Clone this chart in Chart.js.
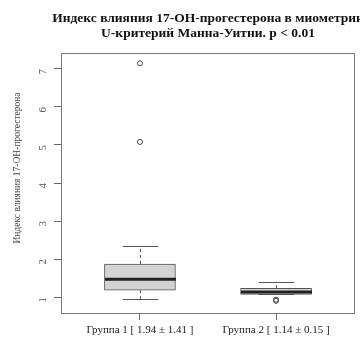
<!DOCTYPE html>
<html>
<head>
<meta charset="utf-8">
<script src="https://cdn.jsdelivr.net/npm/chart.js@4/dist/chart.umd.min.js"></script>
<style>
  html, body { margin: 0; padding: 0; background: #fff; }
  #wrap { width: 360px; height: 340px; position: relative; }
</style>
</head>
<body>
<div id="wrap"><canvas id="c"></canvas></div>
<script>
// Group labels and box-plot statistics (17-OH-progesterone influence index)
const categories = ['Группа 1 [ 1.94 ± 1.41 ]', 'Группа 2 [ 1.14 ± 0.15 ]'];
const groupPos = [1, 2];
const whiskerLow = [0.95, 1.07];
const q1 = [1.18, 1.07];
const median = [1.47, 1.13];
const q3 = [1.87, 1.23];
const whiskerHigh = [2.34, 1.40];
// Outliers: [group index, value]
const outlierGroup = [0, 0, 1, 1];
const outlierValue = [7.15, 5.08, 0.93, 0.90];
const yTicks = [1, 2, 3, 4, 5, 6, 7];

const titleLines = ['Индекс влияния 17-ОН-прогестерона в миометрии', 'U-критерий Манна-Уитни. p < 0.01'];
const yTitle = 'Индекс влияния 17-OH-прогестерона';

const SERIF = '"Liberation Serif", "DejaVu Serif", serif';

const boxExtras = {
  id: 'boxExtras',
  afterDatasetsDraw(chart) {
    const { ctx, chartArea, scales } = chart;
    const xs = scales.x, ys = scales.y;
    const meta = chart.getDatasetMeta(0);
    ctx.save();
    groupPos.forEach((g, i) => {
      const cx = Math.round(xs.getPixelForValue(g)) + 0.5;
      const bar = meta.data[i];
      const half = bar.width / 2;
      const capHalf = half / 2;
      ctx.strokeStyle = '#555';
      ctx.lineWidth = 1;
      // dashed stems
      ctx.setLineDash([3, 3]);
      ctx.beginPath();
      ctx.moveTo(cx, ys.getPixelForValue(q3[i]));
      ctx.lineTo(cx, ys.getPixelForValue(whiskerHigh[i]));
      ctx.moveTo(cx, ys.getPixelForValue(q1[i]));
      ctx.lineTo(cx, ys.getPixelForValue(whiskerLow[i]));
      ctx.stroke();
      // caps
      ctx.setLineDash([]);
      ctx.beginPath();
      ctx.moveTo(cx - capHalf, Math.round(ys.getPixelForValue(whiskerHigh[i])) + 0.5);
      ctx.lineTo(cx + capHalf, Math.round(ys.getPixelForValue(whiskerHigh[i])) + 0.5);
      ctx.moveTo(cx - capHalf, Math.round(ys.getPixelForValue(whiskerLow[i])) + 0.5);
      ctx.lineTo(cx + capHalf, Math.round(ys.getPixelForValue(whiskerLow[i])) + 0.5);
      ctx.stroke();
      // median
      ctx.strokeStyle = '#222';
      ctx.lineWidth = 3;
      ctx.beginPath();
      ctx.moveTo(cx - half, ys.getPixelForValue(median[i]));
      ctx.lineTo(cx + half, ys.getPixelForValue(median[i]));
      ctx.stroke();
    });
    // plot frame
    ctx.strokeStyle = '#777';
    ctx.lineWidth = 1;
    ctx.strokeRect(Math.round(chartArea.left) + 0.5, Math.round(chartArea.top) + 0.5,
      Math.round(chartArea.right - chartArea.left) - 1, Math.round(chartArea.bottom - chartArea.top));
    // title
    ctx.fillStyle = '#111';
    ctx.font = 'bold 13.5px ' + SERIF;
    ctx.textAlign = 'center';
    ctx.textBaseline = 'middle';
    const tx = (chartArea.left + chartArea.right) / 2;
    ctx.fillText(titleLines[0], tx, 19);
    ctx.fillText(titleLines[1], tx, 34);
    // y-axis title
    ctx.font = '9.5px ' + SERIF;
    ctx.fillStyle = '#444';
    ctx.translate(17, 168);
    ctx.rotate(-Math.PI / 2);
    ctx.fillText(yTitle, 0, 0);
    ctx.restore();
  }
};

new Chart(document.getElementById('c'), {
  type: 'bar',
  data: {
    datasets: [
      {
        label: 'box',
        data: groupPos.map((g, i) => ({ x: g, y: [q1[i], q3[i]] })),
        backgroundColor: '#d3d3d3',
        borderColor: '#555',
        borderWidth: 1,
        borderSkipped: false,
        barThickness: 71,
        order: 2
      },
      {
        type: 'scatter',
        label: 'outliers',
        data: outlierValue.map((v, i) => ({ x: groupPos[outlierGroup[i]], y: v })),
        pointStyle: 'circle',
        pointRadius: 2.5,
        backgroundColor: 'rgba(0,0,0,0)',
        borderColor: '#444',
        borderWidth: 1,
        order: 1
      }
    ]
  },
  options: {
    responsive: true,
    maintainAspectRatio: false,
    animation: false,
    layout: { padding: { top: 53, right: 2, left: 0, bottom: 0 } },
    plugins: { legend: { display: false }, tooltip: { enabled: false }, title: { display: false } },
    scales: {
      x: {
        type: 'linear',
        offset: false,
        min: 0.42,
        max: 2.58,
        afterBuildTicks(scale) { scale.ticks = groupPos.map(v => ({ value: v })); },
        afterFit(scale) { scale.height = 27; },
        border: { display: false },
        grid: { offset: false, drawOnChartArea: false, drawTicks: true, tickLength: 7, color: '#666' },
        ticks: {
          autoSkip: false,
          maxRotation: 0,
          padding: 4,
          color: '#222',
          font: { family: SERIF, size: 11 },
          callback: (v) => categories[groupPos.indexOf(v)] ?? ''
        }
      },
      y: {
        min: 0.58,
        max: 7.42,
        afterBuildTicks(scale) { scale.ticks = yTicks.map(v => ({ value: v })); },
        afterFit(scale) { scale.width = 61; },
        border: { display: false },
        grid: { drawOnChartArea: false, drawTicks: true, tickLength: 7, color: '#666' },
        ticks: {
          minRotation: 90,
          maxRotation: 90,
          padding: 11,
          color: '#555',
          font: { family: SERIF, size: 11 }
        }
      }
    }
  },
  plugins: [boxExtras]
});
</script>
</body>
</html>
